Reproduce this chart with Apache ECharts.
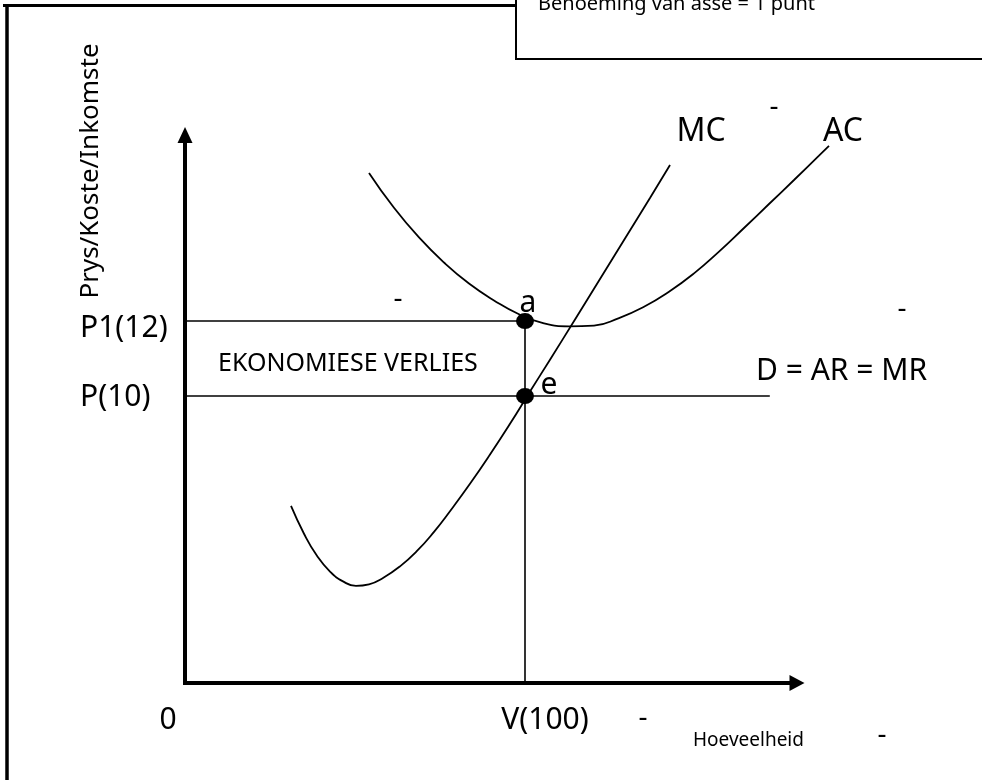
<!DOCTYPE html>
<html><head><meta charset="utf-8">
<script src="https://cdn.jsdelivr.net/npm/echarts@6/dist/echarts.min.js"></script>
<style>html,body{margin:0;padding:0;background:#fff}#c{width:982px;height:780px}</style>
</head><body><div id="c"></div>
<script>
const FONT = '"Noto Sans", "Open Sans", sans-serif';

// Average cost curve (quantity, price units)
const acQ = [54.12, 61.47, 68.82, 76.18, 83.53, 90.88, 98.24, 105.59, 112.94, 120.29, 127.65, 135.0, 142.35, 149.71, 157.06, 164.41, 171.76, 179.12, 186.47, 189.41];
const acP = [15.95, 15.02, 14.23, 13.56, 13.00, 12.55, 12.18, 11.94, 11.86, 11.88, 12.08, 12.38, 12.78, 13.27, 13.85, 14.48, 15.12, 15.76, 16.41, 16.67];
// Marginal cost curve
const mcQ = [31.18, 35.0, 38.82, 42.65, 46.47, 50.29, 54.12, 58.24, 63.24, 68.24, 73.24, 77.94, 83.82, 89.71, 95.59, 101.47, 107.35, 114.71, 122.06, 129.41, 136.76, 142.65];
const mcP = [7.07, 6.33, 5.74, 5.32, 5.06, 4.94, 4.98, 5.15, 5.46, 5.87, 6.38, 6.93, 7.66, 8.44, 9.26, 10.12, 10.97, 12.04, 13.12, 14.20, 15.28, 16.16];

const quantityV = 100;
const priceP1 = 12;
const priceP = 10;
const demandEndQ = 172;
const axisMinP = 2.35;
const axisMaxP = 16.96;
const xAxisEndQ = 180;
const axisMaxQ = 200;

const yTickValues = [12, 10];
const yTickLabels = ['P1(12)', 'P(10)'];
const xTickValues = [0, 100];
const xTickLabels = ['0', 'V(100)'];
const pointNames = ['a', 'e'];

const chart = echarts.init(document.getElementById('c'), null, {renderer: 'canvas'});

const black = '#000';
const thin = {color: black, width: 1.6};
const LBL = 30;

const option = {
  backgroundColor: '#fff',
  animation: false,
  textStyle: {fontFamily: FONT},
  grid: {left: 185, right: 117, top: 135, bottom: 97, containLabel: false},
  xAxis: {
    type: 'value', min: 0, max: axisMaxQ,
    axisLine: {show: false},
    axisTick: {show: false},
    splitLine: {show: false},
    axisLabel: {
      customValues: xTickValues,
      margin: 22,
      color: black, fontFamily: FONT, fontSize: LBL,
      formatter: function (v) {
        const i = xTickValues.indexOf(v);
        return i === 0 ? '{o|' + xTickLabels[i] + '}' : '{v|' + xTickLabels[i] + '}';
      },
      rich: {
        o: {fontSize: LBL, fontFamily: FONT, color: black, padding: [0, 34, 0, 0]},
        v: {fontSize: LBL, fontFamily: FONT, color: black, padding: [0, 0, 0, 40]}
      }
    }
  },
  yAxis: {
    type: 'value', min: axisMinP, max: axisMaxP,
    axisLine: {show: true, onZero: false, symbol: ['none', 'triangle'], symbolSize: [15, 16], lineStyle: {color: black, width: 4}},
    axisTick: {show: false},
    splitLine: {show: false},
    axisLabel: {
      customValues: yTickValues,
      margin: 105,
      align: 'left',
      color: black, fontFamily: FONT, fontSize: LBL,
      formatter: function (v) {
        const i = yTickValues.indexOf(v);
        return i === 0 ? '{p1|' + yTickLabels[i] + '}' : '{p|' + yTickLabels[i] + '}';
      },
      rich: {
        p1: {fontSize: LBL, fontFamily: FONT, color: black, padding: [14, 0, 0, 0]},
        p: {fontSize: LBL, fontFamily: FONT, color: black, padding: [2, 0, 0, 0]}
      }
    }
  },
  series: [
    {
      name: 'Hoeveelheid-as', type: 'line', showSymbol: false, silent: true, clip: false,
      data: [[0, axisMinP], [xAxisEndQ, axisMinP]], lineStyle: {color: black, width: 4, cap: 'square'}
    },
    {
      name: 'arrow', type: 'scatter', silent: true, clip: false,
      symbol: 'triangle', symbolSize: [16, 15], symbolRotate: -90,
      itemStyle: {color: black, opacity: 1},
      data: [[xAxisEndQ, axisMinP]]
    },
    {
      name: 'P1', type: 'line', showSymbol: false, silent: true,
      data: [[0, priceP1], [quantityV, priceP1]], lineStyle: thin
    },
    {
      name: 'D = AR = MR', type: 'line', showSymbol: false, silent: true,
      data: [[0, priceP], [demandEndQ, priceP]], lineStyle: thin
    },
    {
      name: 'V', type: 'line', showSymbol: false, silent: true,
      data: [[quantityV, axisMinP], [quantityV, priceP1]], lineStyle: thin
    },
    {
      name: 'AC', type: 'line', showSymbol: false, smooth: true, clip: false,
      data: acQ.map((q, i) => [q, acP[i]]), lineStyle: {color: black, width: 1.8}
    },
    {
      name: 'MC', type: 'line', showSymbol: false, smooth: true, clip: false,
      data: mcQ.map((q, i) => [q, mcP[i]]), lineStyle: {color: black, width: 1.8}
    },
    {
      name: 'points', type: 'scatter', symbol: 'circle', symbolSize: [18, 16],
      itemStyle: {color: black, opacity: 1},
      z: 5,
      data: [
        {value: [quantityV, priceP1], label: {show: true, formatter: pointNames[0], position: 'inside', offset: [3, -18], fontSize: LBL, color: black, fontFamily: FONT}},
        {value: [quantityV, priceP], label: {show: true, formatter: pointNames[1], position: 'inside', offset: [24, -11], fontSize: LBL, color: black, fontFamily: FONT}}
      ]
    }
  ],
  graphic: [
    {type: 'line', shape: {x1: 7, y1: 4, x2: 7, y2: 782}, style: {stroke: black, lineWidth: 3.5}},
    {type: 'line', shape: {x1: 3, y1: 5.5, x2: 517, y2: 5.5}, style: {stroke: black, lineWidth: 3}},
    {type: 'rect', shape: {x: 516, y: -10, width: 480, height: 69}, style: {fill: '#fff', stroke: black, lineWidth: 2}},
    {type: 'text', x: 538, y: 4, style: {text: 'Benoeming van asse = 1 punt', fontSize: 20, fontFamily: FONT, fill: black, verticalAlign: 'middle', align: 'left'}},
    {type: 'text', x: 91, y: 171, rotation: Math.PI / 2, style: {text: 'Prys/Koste/Inkomste', fontSize: 26, fontFamily: FONT, fill: black, verticalAlign: 'middle', align: 'center'}},
    {type: 'text', x: 218, y: 364, style: {text: 'EKONOMIESE VERLIES', fontSize: 25, fontFamily: FONT, fill: black, verticalAlign: 'middle', align: 'left'}},
    {type: 'text', x: 701, y: 132, style: {text: 'MC', fontSize: 32, fontFamily: FONT, fill: black, verticalAlign: 'middle', align: 'center'}},
    {type: 'text', x: 843, y: 132, style: {text: 'AC', fontSize: 32, fontFamily: FONT, fill: black, verticalAlign: 'middle', align: 'center'}},
    {type: 'text', x: 756, y: 371, style: {text: 'D = AR = MR', fontSize: LBL, fontFamily: FONT, fill: black, verticalAlign: 'middle', align: 'left'}},
    {type: 'text', x: 693, y: 741, style: {text: 'Hoeveelheid', fontSize: 19, fontFamily: FONT, fill: black, verticalAlign: 'middle', align: 'left'}},
    {type: 'text', x: 774, y: 107, style: {text: '-', fontSize: 28, fontFamily: FONT, fill: black, verticalAlign: 'middle', align: 'center'}},
    {type: 'text', x: 398, y: 299, style: {text: '-', fontSize: 28, fontFamily: FONT, fill: black, verticalAlign: 'middle', align: 'center'}},
    {type: 'text', x: 902, y: 309, style: {text: '-', fontSize: 28, fontFamily: FONT, fill: black, verticalAlign: 'middle', align: 'center'}},
    {type: 'text', x: 643, y: 718, style: {text: '-', fontSize: 28, fontFamily: FONT, fill: black, verticalAlign: 'middle', align: 'center'}},
    {type: 'text', x: 882, y: 735, style: {text: '-', fontSize: 28, fontFamily: FONT, fill: black, verticalAlign: 'middle', align: 'center'}}
  ]
};
chart.setOption(option);
</script>
</body></html>
